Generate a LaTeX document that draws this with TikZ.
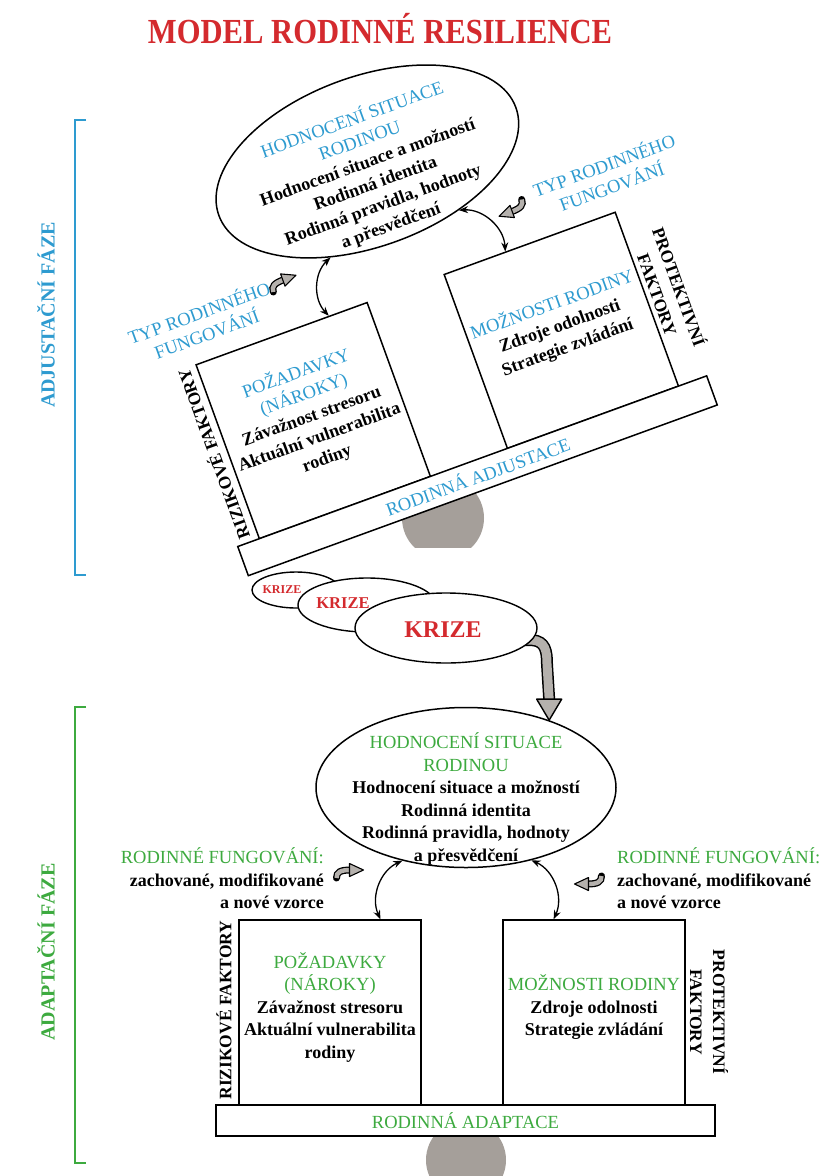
\documentclass[tikz,border=0pt]{standalone}
\usepackage{fontspec}
\setmainfont{Liberation Serif}
\usetikzlibrary{shapes.geometric,arrows.meta,calc}
\pgfdeclarelayer{bg}
\pgfsetlayers{bg,main}
\definecolor{tred}{HTML}{D42A2E}
\definecolor{tblue}{HTML}{2E9BD0}
\definecolor{tgreen}{HTML}{3DAA3F}
\definecolor{fulc}{HTML}{A59F9A}
\definecolor{harr}{HTML}{B5B1AD}
\newcommand\hfont{\mdseries\fontsize{18.5}{22.5}\selectfont}
\tikzset{
 plank/.style={draw, fill=white, line width=1.5pt, minimum width=499, minimum height=31, inner sep=0, font=\hfont},
 box/.style={draw, fill=white, line width=1.5pt, minimum width=182, minimum height=185, inner sep=0},
 txt/.style={font=\bfseries\fontsize{18}{22.5}\selectfont, align=center, inner sep=0},
 lab/.style={font=\hfont, align=center, inner sep=0},
 vlab/.style={font=\bfseries\fontsize{17.5}{23}\selectfont, inner sep=0},
 ell/.style={draw, ellipse, fill=white, line width=1.5pt, inner sep=0},
 dbl/.style={{Stealth[length=9pt,width=7pt]}-{Stealth[length=9pt,width=7pt]}, line width=1.3pt},
 kr/.style={draw, ellipse, fill=white, line width=1.4pt, inner sep=0},
 krt/.style={text=tred, inner sep=0}
}
\newcommand\hookarr[3]{%
 \begin{scope}[shift={(#1,#2)}, rotate=#3]
  \draw[line width=7pt, line cap=round] (-12,6) .. controls (-12,0) and (-8,-2) .. (2,-2);
  \draw[line width=4.4pt, harr, line cap=butt] (-12,6) .. controls (-12,0) and (-8,-2) .. (2,-2);
  \filldraw[fill=harr, draw=black, line width=1.1pt, line join=round] (1,-8.5) -- (15,-2) -- (1,4.5) -- cycle;
 \end{scope}}
% #1 prefix, #2 colour, #3 plank text, #4,#5 ellipse centre, #6 ellipse width, #7 ellipse height, #8 right arrow landing
\newcommand\resil[8]{%
  \node[box] (#1L) at (-135.5,-108) {};
  \node[box] (#1R) at (128.5,-108) {};
  \node[plank] (#1P) at (0,0) {\textcolor{#2}{#3}};
  \node[txt] (#1Lt) at (-135.5,-113.5) {\textcolor{#2}{\hfont POŽADAVKY}\\\textcolor{#2}{\hfont (NÁROKY)}\\Závažnost stresoru\\Aktuální vulnerabilita\\rodiny};
  \node[txt] (#1Rt) at (128.5,-113) {\textcolor{#2}{\hfont MOŽNOSTI RODINY}\\Zdroje odolnosti\\Strategie zvládání};
  \node[vlab, rotate=90] (#1Kf) at (-241.5,-110.5) {RIZIKOVÉ FAKTORY};
  \node[vlab, rotate=-90, align=center] (#1Pf) at (243.5,-108.5) {PROTEKTIVNÍ\\FAKTORY};
  \node[ell, minimum width=#6, minimum height=#7] (#1E) at (#4,#5) {};
  \node[txt] (#1Et) at (#4,#5+11.5) {\textcolor{#2}{\hfont HODNOCENÍ SITUACE}\\\textcolor{#2}{\hfont RODINOU}\\Hodnocení situace a možností\\Rodinná identita\\Rodinná pravidla, hodnoty\\a přesvědčení};
  \draw[dbl] (#1E.229) to[bend right=45] ($(#1L.north west)!0.775!(#1L.north east)$);
  \draw[dbl] (#1E.312) to[bend left=45] ($(#1R.north west)!#8!(#1R.north east)$);
  \hookarr{-117}{-248.5}{0}
  \hookarr{124}{-238.5}{180}
}
\begin{document}
\begin{tikzpicture}[x=1pt,y=-1pt]
\useasboundingbox (0,0) rectangle (826,1176);
\begin{pgfonlayer}{bg}
 \fill[white] (0,0) rectangle (826,1176);
\end{pgfonlayer}
% title
\node[text=tred, font=\bfseries\fontsize{30.6}{34}\selectfont, yscale=1.15, anchor=base, inner sep=0] (title) at (380,43) {MODEL RODINNÉ RESILIENCE};
% phase brackets
\draw[tblue, line width=2pt] (86,120) -- (75,120) -- (75,575) -- (86,575);
\node[text=tblue, rotate=90, font=\bfseries\fontsize{20}{24}\selectfont, inner sep=0] (adj) at (46,315) {ADJUSTAČNÍ FÁZE};
\draw[tgreen, line width=2pt] (86,707) -- (75,707) -- (75,1163) -- (86,1163);
\node[text=tgreen, rotate=90, font=\bfseries\fontsize{20}{24}\selectfont, inner sep=0] (adp) at (46,952) {ADAPTAČNÍ FÁZE};
% fulcrums
\begin{scope}
 \clip (380,470) rectangle (520,547);
 \fill[fulc] (443,518) circle (41);
\end{scope}
\fill[fulc] (466,1160) circle (40);
% adjustment phase (tilted)
\begin{scope}[shift={(477.5,475.75)}, rotate=20, transform shape]
 \resil{t}{tblue}{RODINNÁ ADJUSTACE}{4}{-333}{316}{170}{0.36}
 \node[lab, text=tblue] (tTL) at (-206,-238) {TYP RODINNÉHO\\FUNGOVÁNÍ};
 \node[lab, text=tblue] (tTR) at (225,-238) {TYP RODINNÉHO\\FUNGOVÁNÍ};
\end{scope}
% crisis
\node[kr, minimum width=88, minimum height=36] (kr1) at (296,590) {};
\node[krt, font=\bfseries\fontsize{12}{14}\selectfont] (kr1t) at (282,590) {KRIZE};
\node[kr, minimum width=138, minimum height=54] (kr2) at (367,605) {};
\node[krt, font=\bfseries\fontsize{16.5}{18}\selectfont] (kr2t) at (343,603) {KRIZE};
\node[kr, minimum width=182, minimum height=70] (kr3) at (446,628) {};
\node[krt, font=\bfseries\fontsize{24}{26}\selectfont] (kr3t) at (443,630) {KRIZE};
% adaptation phase
\begin{scope}[shift={(465.5,1120.5)}]
 \resil{b}{tgreen}{RODINNÁ ADAPTACE}{0.5}{-333}{300}{160}{0.28}
 \node[txt, anchor=east, align=right] (bFL) at (-141.5,-242) {\textcolor{tgreen}{\hfont RODINNÉ FUNGOVÁNÍ:}\\zachované, modifikované\\a nové vzorce};
 \node[txt, anchor=west, align=left] (bFR) at (151.5,-242) {\textcolor{tgreen}{\hfont RODINNÉ FUNGOVÁNÍ:}\\zachované, modifikované\\a nové vzorce};
\end{scope}
% crisis arrow
\begin{pgfonlayer}{bg}
 \coordinate (kbend) at (547,664);
 \coordinate (kbase) at ($(bE.39)+(0,-21)$);
 \draw[line width=12pt] ($(kr3.-8)+(-14,0)$) -- (kr3.-8) .. controls +(13,1) and +(0,-13) .. (kbend) -- (kbase);
 \draw[line width=9pt, harr] ($(kr3.-8)+(-14,0)$) -- (kr3.-8) .. controls +(13,1) and +(0,-13) .. (kbend) -- (kbase);
 \filldraw[fill=harr, draw=black, line width=1.4pt, line join=round] ($(kbase)+(-12.5,0)$) -- ($(kbase)+(12.5,0)$) -- (bE.39) -- cycle;
\end{pgfonlayer}
\end{tikzpicture}
\end{document}
